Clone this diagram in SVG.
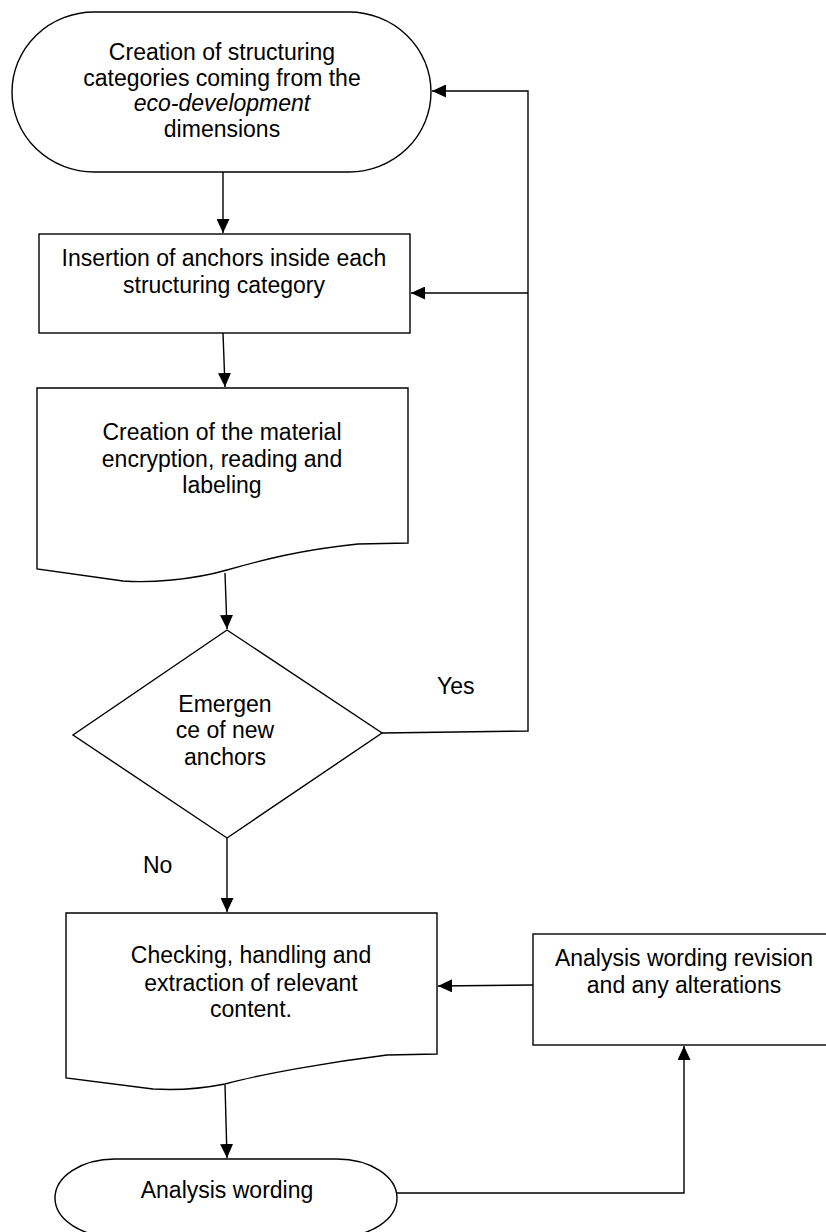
<svg xmlns="http://www.w3.org/2000/svg" width="826" height="1232" viewBox="0 0 826 1232">
<style>
.shape{fill:#fff;stroke:#000;stroke-width:1.4}
.t{font-family:"Liberation Sans",Arial,sans-serif;font-size:23px;fill:#000;text-anchor:middle}
.lbl{font-family:"Liberation Sans",Arial,sans-serif;font-size:23px;fill:#000}
.c{fill:none;stroke:#000;stroke-width:1.4}
</style>
<defs>
<marker id="ah" markerUnits="userSpaceOnUse" markerWidth="14" markerHeight="13" viewBox="0 0 14 13" refX="14" refY="6.5" orient="auto">
<path d="M0,0 L14,6.5 L0,13 z" fill="#000"/>
</marker>
</defs>
<rect width="826" height="1232" fill="#fff"/>
<g id="connectors">
<path class="c" d="M223,172 L223,233" marker-end="url(#ah)"/>
<path class="c" d="M223,333 L225,387" marker-end="url(#ah)"/>
<path class="c" d="M225,573 L227,629" marker-end="url(#ah)"/>
<path class="c" d="M382,733 L528,731 L528,91 L432,91" marker-end="url(#ah)"/>
<path class="c" d="M528,293 L411,293" marker-end="url(#ah)"/>
<path class="c" d="M227,838 L227,912" marker-end="url(#ah)"/>
<path class="c" d="M225,1085 L227,1158" marker-end="url(#ah)"/>
<path class="c" d="M397,1193 L684,1193 L684,1046" marker-end="url(#ah)"/>
<path class="c" d="M533,985 L438,986" marker-end="url(#ah)"/>
<text class="lbl" x="437" y="694">Yes</text>
<text class="lbl" x="143" y="873">No</text>
</g>
<g id="n1">
<rect class="shape" x="12" y="12" width="419" height="160" rx="82" ry="80"/>
<text class="t" x="222" y="60">Creation of structuring</text>
<text class="t" x="222" y="86">categories coming from the</text>
<text class="t" x="222" y="111" font-style="italic">eco-development</text>
<text class="t" x="222" y="137">dimensions</text>
</g>
<g id="n2">
<rect class="shape" x="39" y="234" width="371" height="99"/>
<text class="t" x="224" y="266">Insertion of anchors inside each</text>
<text class="t" x="224" y="293">structuring category</text>
</g>
<g id="n3">
<path class="shape" d="M37,388 H408 V543 L358,544 C300,550 262,560 227,570 C192,580 150,583 123,581 L37,569 Z"/>
<text class="t" x="222" y="440">Creation of the material</text>
<text class="t" x="222" y="467">encryption, reading and</text>
<text class="t" x="222" y="493">labeling</text>
</g>
<g id="n4">
<path class="shape" d="M227,630 L382,733 L227,838 L73,735 Z"/>
<text class="t" x="225" y="712">Emergen</text>
<text class="t" x="225" y="738">ce of new</text>
<text class="t" x="225" y="765">anchors</text>
</g>
<g id="n5">
<path class="shape" d="M66,913 H437 V1054 L387,1055 C330,1062 262,1074 225,1084 C195,1090 170,1090 153,1089 L66,1078 Z"/>
<text class="t" x="251" y="963">Checking, handling and</text>
<text class="t" x="251" y="991">extraction of relevant</text>
<text class="t" x="251" y="1017">content.</text>
</g>
<g id="n6">
<rect class="shape" x="533" y="934" width="300" height="111"/>
<text class="t" x="684" y="966">Analysis wording revision</text>
<text class="t" x="684" y="993">and any alterations</text>
</g>
<g id="n7">
<rect class="shape" x="55" y="1159" width="342" height="78" rx="60" ry="39"/>
<text class="t" x="227" y="1198">Analysis wording</text>
</g>
</svg>
